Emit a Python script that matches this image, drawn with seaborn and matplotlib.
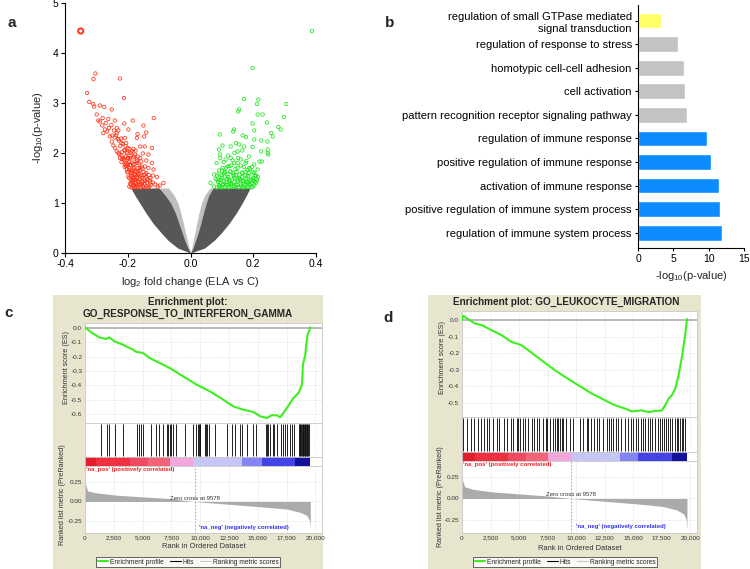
import numpy as np
import pandas as pd
import matplotlib
matplotlib.use("Agg")
import matplotlib.pyplot as plt
import seaborn as sns
from matplotlib.lines import Line2D

sns.set_theme(style="white")
plt.rcParams["font.family"] = ["Liberation Sans", "DejaVu Sans"]
plt.rcParams["mathtext.fontset"] = "custom"
plt.rcParams["mathtext.rm"] = "Liberation Sans"
plt.rcParams["mathtext.it"] = "Liberation Sans:italic"
plt.rcParams["mathtext.bf"] = "Liberation Sans:bold"

# ---------------- data: panel a (volcano) ----------------
cloud_y = [0, 0.1, 0.25, 0.4, 0.6, 0.8, 1.0, 1.15, 1.30]
left_outer = [0, -0.041, -0.071, -0.093, -0.120, -0.142, -0.162, -0.177, -0.190]
left_inner = [0, -0.008, -0.018, -0.026, -0.037, -0.048, -0.063, -0.080, -0.100]
left_light = [0, -0.004, -0.010, -0.016, -0.023, -0.031, -0.040, -0.052, -0.070]
right_outer = [0, 0.045, 0.075, 0.098, 0.124, 0.146, 0.165, 0.178, 0.190]
right_inner = [0, 0.008, 0.016, 0.024, 0.033, 0.041, 0.050, 0.058, 0.072]
right_light = [0, 0.004, 0.009, 0.014, 0.020, 0.027, 0.035, 0.045, 0.062]

red_x = [-0.303, -0.309, -0.225, -0.330, -0.212, -0.323, -0.310, -0.307, -0.289, -0.275,
         -0.251, -0.299, -0.294, -0.289, -0.241, -0.211, -0.184, -0.150, -0.117, -0.281,
         -0.273, -0.265, -0.235, -0.230, -0.198, -0.169, -0.141, -0.278, -0.257, -0.241,
         -0.209, -0.171, -0.148, -0.251, -0.246, -0.182, -0.160, -0.146, -0.123, -0.235,
         -0.227, -0.203, -0.152, -0.134, -0.219, -0.193, -0.171, -0.141, -0.123, -0.209,
         -0.182, -0.155, -0.134, -0.118, -0.107, -0.203, -0.187, -0.166, -0.144, -0.128,
         -0.198, -0.177, -0.155, -0.139, -0.120, -0.086, -0.112, -0.190, -0.169, -0.150,
         -0.131, -0.098, -0.240, -0.230, -0.220, -0.215, -0.210, -0.205, -0.200, -0.195,
         -0.190, -0.185, -0.180, -0.175, -0.190, -0.200, -0.210, -0.220, -0.225, -0.185,
         -0.178, -0.170, -0.165, -0.160, -0.180, -0.195, -0.200, -0.195, -0.190, -0.180,
         -0.172, -0.163, -0.155, -0.148, -0.210, -0.200, -0.190, -0.180, -0.170, -0.160,
         -0.150, -0.140, -0.130, -0.120, -0.160, -0.175, -0.220, -0.205, -0.230, -0.250,
         -0.260, -0.270, -0.280, -0.235, -0.185, -0.175, -0.155, -0.140, -0.125, -0.105,
         -0.188, -0.183, -0.178, -0.172, -0.168, -0.162, -0.158, -0.152, -0.146, -0.136,
         -0.192, -0.187, -0.181, -0.174, -0.168, -0.161, -0.153, -0.145, -0.137, -0.128,
         -0.196, -0.191, -0.184, -0.177, -0.171, -0.164, -0.157, -0.149, -0.141, -0.133,
         -0.201, -0.196, -0.189, -0.182, -0.175, -0.168, -0.161, -0.153, -0.145,
         -0.206, -0.200, -0.193, -0.186, -0.179, -0.172, -0.165, -0.157,
         -0.212, -0.206, -0.198, -0.191, -0.184, -0.176, -0.168,
         -0.218, -0.211, -0.203, -0.195, -0.187, -0.224, -0.216, -0.207, -0.229, -0.221,
         -0.237, -0.244, -0.252, -0.262]
red_y = [3.59, 3.48, 3.49, 3.20, 3.10, 3.02, 2.98, 2.93, 2.95, 2.92,
         2.87, 2.77, 2.65, 2.63, 2.65, 2.59, 2.65, 2.55, 2.70, 2.55,
         2.47, 2.43, 2.50, 2.45, 2.47, 2.38, 2.41, 2.40, 2.33, 2.31,
         2.30, 2.30, 2.33, 2.23, 2.15, 2.08, 2.13, 2.13, 2.10, 2.03,
         1.97, 2.00, 1.99, 1.97, 1.88, 1.90, 1.87, 1.85, 1.80, 1.77,
         1.77, 1.73, 1.70, 1.67, 1.52, 1.67, 1.60, 1.63, 1.57, 1.50,
         1.53, 1.47, 1.43, 1.40, 1.41, 1.40, 1.37, 1.37, 1.33, 1.32,
         1.33, 1.35, 2.10, 2.00, 1.95, 1.90, 1.85, 1.80, 1.75, 1.70,
         1.60, 1.55, 1.50, 1.40, 1.45, 1.62, 1.72, 1.82, 1.90, 1.65,
         1.58, 1.50, 1.42, 1.35, 1.36, 1.33, 1.90, 1.82, 1.75, 1.70,
         1.62, 1.55, 1.50, 1.47, 2.05, 2.10, 2.00, 1.93, 1.80, 1.70,
         1.62, 1.52, 1.45, 1.55, 1.90, 2.05, 2.20, 2.20, 2.28, 2.35,
         2.50, 2.60, 2.70, 2.40, 1.45, 1.33, 1.38, 1.33, 1.36, 1.33,
         1.31, 1.34, 1.31, 1.36, 1.31, 1.38, 1.31, 1.34, 1.39, 1.31,
         1.39, 1.42, 1.44, 1.46, 1.44, 1.47, 1.42, 1.44, 1.48, 1.41,
         1.50, 1.53, 1.51, 1.55, 1.53, 1.58, 1.55, 1.56, 1.60, 1.56,
         1.62, 1.66, 1.63, 1.67, 1.64, 1.70, 1.66, 1.69, 1.73,
         1.74, 1.79, 1.76, 1.81, 1.78, 1.84, 1.79, 1.83,
         1.88, 1.93, 1.89, 1.95, 1.91, 1.97, 1.93,
         2.02, 2.06, 2.03, 2.08, 2.04, 2.14, 2.18, 2.14, 2.25, 2.29,
         2.35, 2.45, 2.56, 2.68]
red_top_x = [-0.350]
red_top_y = [4.44]

green_x = [0.387, 0.198, 0.171, 0.216, 0.305, 0.212, 0.155, 0.152, 0.214, 0.230,
           0.298, 0.198, 0.244, 0.280, 0.287, 0.139, 0.136, 0.203, 0.257, 0.262,
           0.093, 0.166, 0.177, 0.203, 0.225, 0.245, 0.145, 0.155, 0.102, 0.128,
           0.171, 0.198, 0.246, 0.091, 0.150, 0.225, 0.246, 0.248, 0.094, 0.186,
           0.128, 0.160, 0.112, 0.220, 0.227, 0.083, 0.139, 0.176, 0.203, 0.118,
           0.102, 0.150, 0.187, 0.214, 0.091, 0.128, 0.166, 0.203, 0.075, 0.107,
           0.139, 0.182, 0.209, 0.086, 0.118, 0.150, 0.176, 0.198, 0.064, 0.096,
           0.128, 0.160, 0.187, 0.075, 0.091, 0.112, 0.139, 0.166, 0.198, 0.090,
           0.100, 0.105, 0.115, 0.120, 0.125, 0.130, 0.135, 0.140, 0.145, 0.150,
           0.155, 0.160, 0.165, 0.170, 0.175, 0.180, 0.185, 0.190, 0.195, 0.200,
           0.205, 0.210, 0.200, 0.190, 0.110, 0.100, 0.085, 0.080, 0.095, 0.120,
           0.145, 0.170, 0.185, 0.130, 0.150, 0.170, 0.120, 0.095, 0.140, 0.165,
           0.085, 0.092, 0.098, 0.104, 0.110, 0.117, 0.124, 0.131, 0.138, 0.146,
           0.153, 0.161, 0.168, 0.175, 0.182, 0.189, 0.196, 0.203, 0.208, 0.212,
           0.088, 0.097, 0.106, 0.114, 0.123, 0.132, 0.141, 0.150, 0.158, 0.167,
           0.176, 0.184, 0.193, 0.201,
           0.090, 0.099, 0.108, 0.118, 0.127, 0.137, 0.147, 0.156, 0.165, 0.175,
           0.186, 0.205, 0.215,
           0.113, 0.124, 0.143, 0.160, 0.181, 0.196, 0.106, 0.134, 0.152, 0.178]
green_y = [4.44, 3.70, 3.08, 3.07, 2.98, 2.98, 2.87, 2.83, 2.77, 2.77,
           2.72, 2.59, 2.61, 2.52, 2.47, 2.47, 2.43, 2.45, 2.40, 2.33,
           2.37, 2.35, 2.32, 2.27, 2.25, 2.23, 2.20, 2.17, 2.15, 2.13,
           2.13, 2.12, 2.07, 2.07, 2.03, 2.03, 2.00, 1.97, 1.97, 1.93,
           1.90, 1.87, 1.87, 1.83, 1.83, 1.80, 1.80, 1.80, 1.77, 1.73,
           1.70, 1.70, 1.70, 1.67, 1.65, 1.63, 1.60, 1.60, 1.57, 1.57,
           1.53, 1.53, 1.55, 1.47, 1.48, 1.47, 1.43, 1.47, 1.40, 1.40,
           1.39, 1.39, 1.37, 1.33, 1.33, 1.35, 1.33, 1.33, 1.33, 1.45,
           1.50, 1.38, 1.42, 1.52, 1.45, 1.35, 1.60, 1.42, 1.55, 1.36,
           1.50, 1.45, 1.52, 1.38, 1.62, 1.42, 1.55, 1.45, 1.38, 1.50,
           1.42, 1.48, 1.62, 1.68, 1.62, 1.65, 1.55, 1.48, 1.33, 1.32,
           1.32, 1.32, 1.32, 1.75, 1.80, 1.72, 1.95, 1.90, 2.00, 2.05,
           1.31, 1.35, 1.31, 1.36, 1.32, 1.37, 1.31, 1.38, 1.33, 1.37,
           1.31, 1.35, 1.31, 1.36, 1.33, 1.37, 1.31, 1.35, 1.40, 1.45,
           1.42, 1.46, 1.43, 1.48, 1.41, 1.47, 1.50, 1.43, 1.48, 1.44,
           1.49, 1.41, 1.47, 1.44,
           1.58, 1.55, 1.60, 1.57, 1.63, 1.56, 1.62, 1.57, 1.61, 1.55,
           1.60, 1.55, 1.52,
           1.70, 1.74, 1.68, 1.75, 1.66, 1.72, 1.82, 1.85, 1.90, 1.84]

# ---------------- data: panel b (GO bars) ----------------
go_terms = ["regulation of small GTPase mediated\nsignal transduction",
            "regulation of response to stress",
            "homotypic cell-cell adhesion",
            "cell activation",
            "pattern recognition receptor signaling pathway",
            "regulation of immune response",
            "positive regulation of immune response",
            "activation of immune response",
            "positive regulation of immune system process",
            "regulation of immune system process"]
go_values = [3.3, 5.6, 6.5, 6.7, 7.0, 9.8, 10.3, 11.5, 11.65, 11.9]
go_colors = ["#FFFF66", "#C3C3C3", "#C3C3C3", "#C3C3C3", "#C3C3C3",
             "#0C8CFF", "#0C8CFF", "#0C8CFF", "#0C8CFF", "#0C8CFF"]

# ---------------- data: panel c (GSEA IFN-gamma) ----------------
c_title = "Enrichment plot:\nGO_RESPONSE_TO_INTERFERON_GAMMA"
c_es_rank = [0, 523, 1250, 1831, 2122, 2558, 3285, 4157, 4448, 5029, 5611, 6483, 7355,
             8517, 9680, 10843, 12006, 12878, 13750, 14622, 15203, 15785, 16221, 16657,
             16948, 17238, 17529, 18110, 18547, 18837, 18924, 19128, 19215, 19331, 19506, 19560]
c_es_val = [0.005, -0.030, -0.065, -0.077, -0.065, -0.093, -0.116, -0.151, -0.167, -0.174,
            -0.209, -0.244, -0.279, -0.337, -0.395, -0.442, -0.500, -0.547, -0.570, -0.586,
            -0.616, -0.628, -0.609, -0.609, -0.623, -0.593, -0.558, -0.488, -0.453, -0.395,
            -0.256, -0.186, -0.116, -0.047, -0.010, 0.005]
c_hits = [1395, 1919, 2064, 2645, 3285, 4506, 4680, 4884, 5029, 5756, 6134, 6424, 6773,
          7151, 7209, 7355, 7442, 7645, 7878, 8721, 9390, 9680, 9826, 9913, 9971, 10029,
          10407, 10494, 10610, 10727, 11279, 12297, 12733, 13023, 13459, 13663, 14041,
          14622, 14855, 15698, 15785, 15930, 16076, 16308, 16424, 16657, 17035, 17151,
          17384, 17529, 17762, 17965, 18110, 18547, 18634, 18692, 18750, 18837, 18895,
          18953, 19012, 19070, 19128, 19186, 19244, 19302, 19360, 19418]
c_seg_edges = [0, 959, 3866, 5465, 7355, 9390, 13604, 15349, 18256, 19564]
c_metric_rank = [0, 233, 959, 2703, 5029, 7355, 9390, 12297, 15203, 17529, 18692, 19273, 19506, 19564]
c_metric_val = [0.237, 0.133, 0.110, 0.080, 0.058, 0.037, 0.0, -0.033, -0.067, -0.096,
                -0.138, -0.179, -0.242, -0.346]

# ---------------- data: panel d (GSEA leukocyte migration) ----------------
d_title = "Enrichment plot: GO_LEUKOCYTE_MIGRATION"
d_es_rank = [0, 88, 527, 1113, 1698, 2577, 3455, 4333, 5212, 5797, 6969, 8140, 9018,
             10190, 11361, 12532, 13410, 14289, 14875, 15753, 16339, 16924, 17510, 17803,
             18096, 18389, 18681, 18974, 19267, 19501, 19618, 19706]
d_es_val = [0.0, 0.026, 0.006, -0.020, -0.030, -0.061, -0.091, -0.132, -0.152, -0.182,
            -0.243, -0.304, -0.344, -0.395, -0.445, -0.486, -0.516, -0.536, -0.553, -0.547,
            -0.557, -0.551, -0.547, -0.516, -0.476, -0.455, -0.415, -0.334, -0.223, -0.111,
            -0.051, 0.006]
d_hits = [117, 468, 789, 1053, 1433, 1637, 1930, 2164, 2398, 2749, 3041, 3275, 3684, 3918,
          4269, 4503, 4795, 4942, 5088, 5380, 5556, 5819, 6111, 6316, 6550, 6784, 7076,
          7368, 7485, 7719, 8012, 8158, 8304, 8450, 8596, 8743, 8889, 9123, 9474, 9766,
          10322, 10614, 10907, 11053, 11287, 11579, 11784, 11988, 12368, 12661, 12866,
          13041, 13246, 13450, 13684, 13918, 14269, 14503, 14795, 15000, 15205, 15439,
          15673, 15877, 16024, 16258, 16462, 16667, 16901, 17135, 17339, 17486, 17720,
          17837, 18012, 18217, 18422, 18656, 18802, 18948, 19094, 19240, 19386, 19532]
d_seg_edges = [0, 1113, 4040, 5600, 7554, 9604, 13849, 15460, 18388, 19706]
d_metric_rank = [0, 233, 959, 2703, 5029, 7355, 9578, 12297, 15203, 17529, 18800, 19400, 19640, 19706]
d_metric_val = [0.230, 0.135, 0.105, 0.075, 0.052, 0.030, 0.0, -0.030, -0.060, -0.090,
                -0.130, -0.175, -0.240, -0.360]

seg_colors = ["#E41E2B", "#EE3040", "#F04A62", "#F26478", "#F2A6DC",
              "#C6C6F6", "#8484F2", "#4444E6", "#14129C"]
rank_ticks = [0, 2500, 5000, 7500, 10000, 12500, 15000, 17500, 20000]
rank_ticklabels = ["0", "2,500", "5,000", "7,500", "10,000", "12,500", "15,000", "17,500", "20,000"]

# ---------------- figure ----------------
W, H = 750, 569
fig = plt.figure(figsize=(W / 100, H / 100), dpi=100)
fig.patch.set_facecolor("white")


def px_axes(x0, y0, x1, y1, **kw):
    return fig.add_axes([x0 / W, 1 - y1 / H, (x1 - x0) / W, (y1 - y0) / H], **kw)


def fpos(x, y):
    return x / W, 1 - y / H


# ---- panel a ----
ax = px_axes(65, 3, 316, 253)
ax.fill_betweenx(cloud_y, left_light, left_inner, color="#8a8a8a", alpha=0.55, lw=0)
ax.fill_betweenx(cloud_y, right_light, right_inner, color="#8a8a8a", alpha=0.55, lw=0)
ax.fill_betweenx(cloud_y, left_outer, left_inner, color="#575757", lw=0)
ax.fill_betweenx(cloud_y, right_inner, right_outer, color="#575757", lw=0)
sns.scatterplot(x=red_x, y=red_y, ax=ax, marker="o", s=6, facecolor="none",
                edgecolor="#FF3318", linewidth=0.55)
sns.scatterplot(x=green_x, y=green_y, ax=ax, marker="o", s=6, facecolor="none",
                edgecolor="#1EE61E", linewidth=0.55)
sns.scatterplot(x=red_top_x, y=red_top_y, ax=ax, marker="o", s=14, facecolor="none",
                edgecolor="#FF3318", linewidth=1.4)
ax.set_xlim(-0.4, 0.4)
ax.set_ylim(0, 5)
ax.set_xticks([-0.4, -0.2, 0.0, 0.2, 0.4])
ax.set_xticklabels(["-0.4", "-0.2", "0.0", "0.2", "0.4"])
ax.set_yticks([0, 1, 2, 3, 4, 5])
for s in ["top", "right"]:
    ax.spines[s].set_visible(False)
for s in ["left", "bottom"]:
    ax.spines[s].set_color("black")
    ax.spines[s].set_linewidth(0.8)
ax.tick_params(axis="both", direction="out", length=3, width=0.8, labelsize=7.5,
               colors="black", pad=1.5, left=True, bottom=True)
ax.set_xlabel("log$_2$ fold change (ELA vs C)", fontsize=8, labelpad=4)
ax.set_ylabel("-log$_{10}$(p-value)", fontsize=8, labelpad=6)

# ---- panel b ----
axb = px_axes(638, 5, 744, 248)
dfb = pd.DataFrame({"term": go_terms, "value": go_values})
sns.barplot(data=dfb, x="value", y="term", hue="term", palette=go_colors, orient="h",
            width=0.67, legend=False, ax=axb, saturation=1)
axb.set_xlim(0, 15)
axb.set_ylim(9.65, -0.66)
axb.set_xticks([0, 5, 10, 15])
for s in ["top", "right"]:
    axb.spines[s].set_visible(False)
for s in ["left", "bottom"]:
    axb.spines[s].set_color("black")
    axb.spines[s].set_linewidth(0.8)
axb.tick_params(axis="x", direction="out", length=2.5, width=0.8, labelsize=7.5,
                colors="black", bottom=True, pad=1.5)
axb.tick_params(axis="y", direction="out", length=2.5, width=0.8, labelsize=8,
                colors="black", left=True, pad=2)
for lab in axb.get_yticklabels():
    lab.set_multialignment("right")
    lab.set_linespacing(1.3)
axb.set_ylabel("")
axb.set_xlabel("-log$_{10}$(p-value)", fontsize=8, labelpad=4)


# ---- GSEA panels ----
def gsea_panel(frame, title, title_xy, es_box, hits_box, cb_box, met_box,
               es_rank, es_val, hits, seg_edges, met_rank, met_val,
               es_ylim, es_ticks, met_ylim, xmax, zero_cross, neg_xy,
               es_label_xy, met_label_xy, xlabel_y, legend_xy):
    fx = px_axes(*frame)
    fx.set_facecolor("#E8E5CF")
    fx.set_xticks([])
    fx.set_yticks([])
    for s in fx.spines.values():
        s.set_visible(False)
    fig.text(*fpos(*title_xy), title, ha="center", va="top", fontsize=7.2,
             fontweight="bold", linespacing=1.2)

    # ES curve
    ae = px_axes(*es_box)
    ae.set_facecolor("white")
    ae.set_xlim(0, xmax)
    ae.set_ylim(*es_ylim)
    ae.set_xticks(rank_ticks)
    ae.set_xticklabels([])
    ae.set_yticks(es_ticks)
    ae.set_yticklabels([f"{t:.1f}" for t in es_ticks])
    ae.grid(True, color="#DCDCDC", lw=0.5, ls=(0, (1, 1)))
    ae.axhline(0, color="#B4B4B4", lw=1.3, zorder=1)
    sns.lineplot(x=es_rank, y=es_val, ax=ae, color="#3CF01E", lw=1.5, zorder=3)
    ae.tick_params(axis="both", length=0, labelsize=4.6, pad=2, colors="#333333")
    for s in ae.spines.values():
        s.set_color("#C8C8C8")
        s.set_linewidth(0.6)

    # hits
    ah = px_axes(*hits_box)
    ah.set_facecolor("white")
    ah.vlines(hits, 0.04, 0.96, color="#111111", lw=0.65)
    ah.set_xlim(0, xmax)
    ah.set_ylim(0, 1)
    ah.set_xticks(rank_ticks)
    ah.set_xticklabels([])
    ah.set_yticks([])
    ah.tick_params(length=0)
    ah.grid(True, axis="x", color="#E4E4E4", lw=0.5, ls=(0, (1, 1)))
    for s in ah.spines.values():
        s.set_color("#C8C8C8")
        s.set_linewidth(0.6)

    # colour bar
    ac = px_axes(*cb_box)
    ac.set_facecolor("white")
    ac.barh(0.5, np.diff(seg_edges), left=seg_edges[:-1], height=1.0,
            color=seg_colors, lw=0)
    ac.set_xlim(0, xmax)
    ac.set_ylim(0, 1)
    ac.set_xticks([])
    ac.set_yticks([])
    for s in ac.spines.values():
        s.set_color("#C8C8C8")
        s.set_linewidth(0.6)

    # ranked metric
    am = px_axes(*met_box)
    am.set_facecolor("white")
    am.fill_between(met_rank, met_val, 0, color="#ABABAB", lw=0)
    am.set_xlim(0, xmax)
    am.set_ylim(*met_ylim)
    am.set_xticks(rank_ticks)
    am.set_xticklabels(rank_ticklabels)
    am.set_yticks([0.25, 0.0, -0.25])
    am.set_yticklabels(["0.25", "0.00", "-0.25"])
    am.grid(True, color="#DCDCDC", lw=0.5, ls=(0, (1, 1)))
    am.axvline(zero_cross, color="#9A9A9A", lw=0.6, ls=(0, (2, 2)))
    am.tick_params(axis="both", length=0, labelsize=4.6, pad=2, colors="#333333")
    for s in am.spines.values():
        s.set_color("#C8C8C8")
        s.set_linewidth(0.6)
    am.text(0.004, 0.99, "'na_pos' (positively correlated)", transform=am.transAxes,
            ha="left", va="top", fontsize=4.3, color="#F02020", fontweight="bold")
    am.text(zero_cross, 0.012, f"Zero cross at {zero_cross}", ha="center", va="bottom",
            fontsize=4.3, color="#333333")
    am.text(neg_xy[0], neg_xy[1], "'na_neg' (negatively correlated)", ha="center",
            va="center", fontsize=4.3, color="#3030F0", fontweight="bold")

    fig.text(*fpos(*es_label_xy), "Enrichment score (ES)", rotation=90, ha="center",
             va="center", fontsize=5.2, color="#333333")
    fig.text(*fpos(*met_label_xy), "Ranked list metric (PreRanked)", rotation=90,
             ha="center", va="center", fontsize=5.2, color="#333333")
    fig.text(*fpos((met_box[0] + met_box[2]) / 2, xlabel_y), "Rank in Ordered Dataset",
             ha="center", va="center", fontsize=5.4, color="#333333")

    handles = [Line2D([], [], color="#3CF01E", lw=1.5),
               Line2D([], [], color="black", lw=0.8),
               Line2D([], [], color="#C8C8C8", lw=0.8)]
    leg = fig.legend(handles, ["Enrichment profile", "Hits", "Ranking metric scores"],
                     loc="center", bbox_to_anchor=fpos(*legend_xy), ncol=3,
                     fontsize=4.8, frameon=True, handlelength=1.6, handletextpad=0.3,
                     columnspacing=0.9, borderpad=0.25, fancybox=False)
    leg.get_frame().set_edgecolor("#222222")
    leg.get_frame().set_linewidth(0.6)
    leg.get_frame().set_facecolor("white")


gsea_panel(frame=(53, 295, 323, 569), title=c_title, title_xy=(188, 297),
           es_box=(85, 323, 322, 423), hits_box=(85, 423, 322, 457),
           cb_box=(85, 457, 322, 466), met_box=(85, 466, 322, 533),
           es_rank=c_es_rank, es_val=c_es_val, hits=c_hits, seg_edges=c_seg_edges,
           met_rank=c_metric_rank, met_val=c_metric_val,
           es_ylim=(-0.663, 0.035), es_ticks=[0.0, -0.1, -0.2, -0.3, -0.4, -0.5, -0.6],
           met_ylim=(-0.40, 0.45), xmax=20580, zero_cross=9578, neg_xy=(13800, -0.325),
           es_label_xy=(66, 367), met_label_xy=(62, 495), xlabel_y=547,
           legend_xy=(188, 562))

gsea_panel(frame=(428, 295, 701, 569), title=d_title, title_xy=(566, 297),
           es_box=(462, 311, 697, 417), hits_box=(462, 417, 697, 452),
           cb_box=(462, 452, 697, 461), met_box=(462, 461, 697, 533),
           es_rank=d_es_rank, es_val=d_es_val, hits=d_hits, seg_edges=d_seg_edges,
           met_rank=d_metric_rank, met_val=d_metric_val,
           es_ylim=(-0.587, 0.055), es_ticks=[0.0, -0.1, -0.2, -0.3, -0.4, -0.5],
           met_ylim=(-0.394, 0.428), xmax=20586, zero_cross=9578, neg_xy=(13900, -0.32),
           es_label_xy=(443, 357), met_label_xy=(440, 497), xlabel_y=548,
           legend_xy=(565, 562))

# panel labels
for lab, (x, y) in zip(["a", "b", "c", "d"], [(7, 23), (385, 23), (4, 313), (383, 318)]):
    fig.text(*fpos(x, y), lab, fontsize=11, fontweight="bold", ha="left", va="center")

fig.savefig("out.png", dpi=100)
